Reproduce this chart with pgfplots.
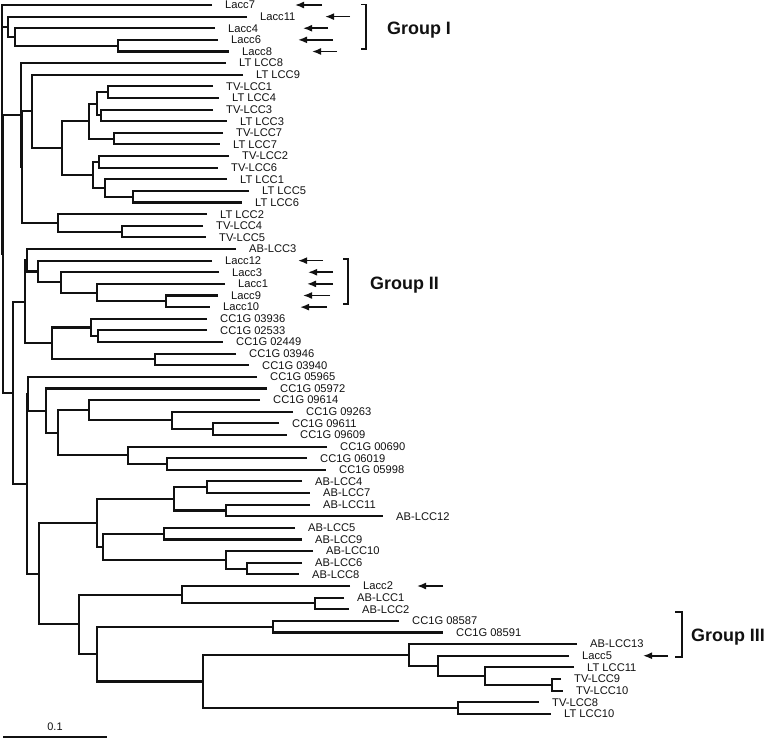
\documentclass[border=0pt]{standalone}
\usepackage{pgfplots}
\pgfplotsset{compat=1.18}
\usepackage{fontspec}
\setmainfont{Liberation Sans}
\usetikzlibrary{arrows.meta}
\definecolor{ink}{HTML}{111111}
\begin{document}
\begin{tikzpicture}
\begin{axis}[width=767bp, height=739bp, scale only axis, hide axis, clip=false,
  xmin=0, xmax=767, ymin=0.5697, ymax=64.167, y dir=reverse]
% ---- tree branches (x = branch position, y = leaf row) ----
\addplot[ink, line width=2.1bp, line join=miter, unbounded coords=jump, mark=none] table {
x y
218 4
118 4
118 5
229 5
nan nan
215 3
15 3
15 4.5
118 4.5
nan nan
247 2
8 2
8 3.75
15 3.75
nan nan
212 1
2 1
2 22.42
3.3 22.42
nan nan
2 2.875
8 2.875
nan nan
20.7 10.477
3.3 10.477
3.3 34.37
12.7 34.37
nan nan
226 6
20.7 6
20.7 14.953
21.7 14.953
nan nan
32 10.156
21.7 10.156
21.7 19.75
58 19.75
nan nan
243 7
32 7
32 13.3125
62 13.3125
nan nan
89 11
62 11
62 15.625
93 15.625
nan nan
97 9.5
89 9.5
89 12.5
114 12.5
nan nan
108 8.5
97 8.5
97 10.5
101 10.5
nan nan
213 8
108 8
108 9
219 9
nan nan
213 10
101 10
101 11
227 11
nan nan
223 12
114 12
114 13
220 13
nan nan
99 14.5
93 14.5
93 16.75
105 16.75
nan nan
229 14
99 14
99 15
218 15
nan nan
227 16
105 16
105 17.5
133 17.5
nan nan
249 17
133 17
133 18
242 18
nan nan
207 19
58 19
58 20.5
122 20.5
nan nan
203 20
122 20
122 21
206 21
nan nan
25 26.547
12.7 26.547
12.7 42.19
26.7 42.19
nan nan
27 22.97
25 22.97
25 30.125
52 30.125
nan nan
236 22
27 22
27 23.9375
38 23.9375
nan nan
212 23
38 23
38 24.875
61 24.875
nan nan
219 24
61 24
61 25.75
97 25.75
nan nan
225 25
97 25
97 26.5
166 26.5
nan nan
218 26
166 26
166 27
210 27
nan nan
91 28.75
52 28.75
52 31.5
155 31.5
nan nan
207 28
91 28
91 29.5
98 29.5
nan nan
207 29
98 29
98 30
223 30
nan nan
236 31
155 31
155 32
249 32
nan nan
28 34.453
26.7 34.453
26.7 49.93
39 49.93
nan nan
257 33
28 33
28 35.906
46 35.906
nan nan
267 34
46 34
46 37.8125
58 37.8125
nan nan
89 35.875
58 35.875
58 39.75
128 39.75
nan nan
260 35
89 35
89 36.75
172 36.75
nan nan
293 36
172 36
172 37.5
213 37.5
nan nan
279 37
213 37
213 38
287 38
nan nan
327 39
128 39
128 40.5
167 40.5
nan nan
307 40
167 40
167 41
326 41
nan nan
97 45.5625
39 45.5625
39 54.305
79 54.305
nan nan
174 43.5
97 43.5
97 47.625
103 47.625
nan nan
207 42.5
174 42.5
174 44.5
226 44.5
nan nan
302 42
207 42
207 43
310 43
nan nan
310 44
226 44
226 45
383 45
nan nan
164 46.5
103 46.5
103 48.75
226 48.75
nan nan
295 46
164 46
164 47
302 47
nan nan
313 48
226 48
226 49.5
247 49.5
nan nan
302 49
247 49
247 50
299 50
nan nan
182 51.75
79 51.75
79 56.86
97 56.86
nan nan
350 51
182 51
182 52.5
315 52.5
nan nan
344 52
315 52
315 53
349 53
nan nan
273 54.5
97 54.5
97 59.22
203 59.22
nan nan
399 54
273 54
273 55
443 55
nan nan
409 56.9375
203 56.9375
203 61.5
458 61.5
nan nan
577 56
409 56
409 57.875
438 57.875
nan nan
569 57
438 57
438 58.75
485 58.75
nan nan
574 58
485 58
485 59.5
552 59.5
nan nan
561 59
552 59
552 60
563 60
nan nan
539 61
458 61
458 62
551 62
};
% ---- leaf labels ----
\addplot[mark=none, draw=none, nodes near coords, point meta=explicit symbolic,
  nodes near coords style={anchor=west, xshift=13bp, inner sep=0pt, text=ink,
  font=\fontsize{11.2}{12}\selectfont}]
  table[col sep=comma, meta=label] {
x,y,label
212,1,Lacc7
247,2,Lacc11
215,3,Lacc4
218,4,Lacc6
229,5,Lacc8
226,6,LT LCC8
243,7,LT LCC9
213,8,TV-LCC1
219,9,LT LCC4
213,10,TV-LCC3
227,11,LT LCC3
223,12,TV-LCC7
220,13,LT LCC7
229,14,TV-LCC2
218,15,TV-LCC6
227,16,LT LCC1
249,17,LT LCC5
242,18,LT LCC6
207,19,LT LCC2
203,20,TV-LCC4
206,21,TV-LCC5
236,22,AB-LCC3
212,23,Lacc12
219,24,Lacc3
225,25,Lacc1
218,26,Lacc9
210,27,Lacc10
207,28,CC1G 03936
207,29,CC1G 02533
223,30,CC1G 02449
236,31,CC1G 03946
249,32,CC1G 03940
257,33,CC1G 05965
267,34,CC1G 05972
260,35,CC1G 09614
293,36,CC1G 09263
279,37,CC1G 09611
287,38,CC1G 09609
327,39,CC1G 00690
307,40,CC1G 06019
326,41,CC1G 05998
302,42,AB-LCC4
310,43,AB-LCC7
310,44,AB-LCC11
383,45,AB-LCC12
295,46,AB-LCC5
302,47,AB-LCC9
313,48,AB-LCC10
302,49,AB-LCC6
299,50,AB-LCC8
350,51,Lacc2
344,52,AB-LCC1
349,53,AB-LCC2
399,54,CC1G 08587
443,55,CC1G 08591
577,56,AB-LCC13
569,57,Lacc5
574,58,LT LCC11
561,59,TV-LCC9
563,60,TV-LCC10
539,61,TV-LCC8
551,62,LT LCC10
};
% ---- arrows marking the Lacc genes ----
\pgfplotsset{arr/.style={ink, line width=1.6bp, mark=none, -{Latex[length=9bp,width=7bp]}}}
\addplot[arr] coordinates {(322,1) (295,1)};
\addplot[arr] coordinates {(350,2) (325,2)};
\addplot[arr] coordinates {(328,3) (303,3)};
\addplot[arr] coordinates {(333,4) (298,4)};
\addplot[arr] coordinates {(337,5) (312,5)};
\addplot[arr] coordinates {(323,23) (298,23)};
\addplot[arr] coordinates {(333,24) (308,24)};
\addplot[arr] coordinates {(333,25) (307,25)};
\addplot[arr] coordinates {(330,26) (303,26)};
\addplot[arr] coordinates {(327,27) (300,27)};
\addplot[arr] coordinates {(443,51) (417,51)};
\addplot[arr] coordinates {(668,57) (643,57)};
% ---- group brackets ----
\pgfplotsset{brk/.style={ink, line width=1.4bp, mark=none, line join=miter}}
\addplot[brk] coordinates {(361,0.98) (366,0.98) (366,4.79) (361,4.79)};
\addplot[brk] coordinates {(343,22.86) (348,22.86) (348,26.72) (343,26.72)};
\addplot[brk] coordinates {(675,53.24) (682,53.24) (682,57.11) (675,57.11)};
\node[anchor=base west, inner sep=0pt, text=ink, font=\bfseries\fontsize{18}{20}\selectfont] at (axis cs:387,3.53) {Group I};
\node[anchor=base west, inner sep=0pt, text=ink, font=\bfseries\fontsize{18}{20}\selectfont] at (axis cs:370,25.48) {Group II};
\node[anchor=base west, inner sep=0pt, text=ink, font=\bfseries\fontsize{18}{20}\selectfont] at (axis cs:691,55.77) {Group III};
% ---- scale bar ----
\addplot[ink, line width=1.4bp, mark=none] coordinates {(3,63.99) (107,63.99)};
\node[text=ink, inner sep=0pt, font=\fontsize{11}{12}\selectfont] at (axis cs:55,63.1) {0.1};
\end{axis}
\pgfresetboundingbox
\path (current axis.south west) rectangle (current axis.north east);
\end{tikzpicture}
\end{document}
